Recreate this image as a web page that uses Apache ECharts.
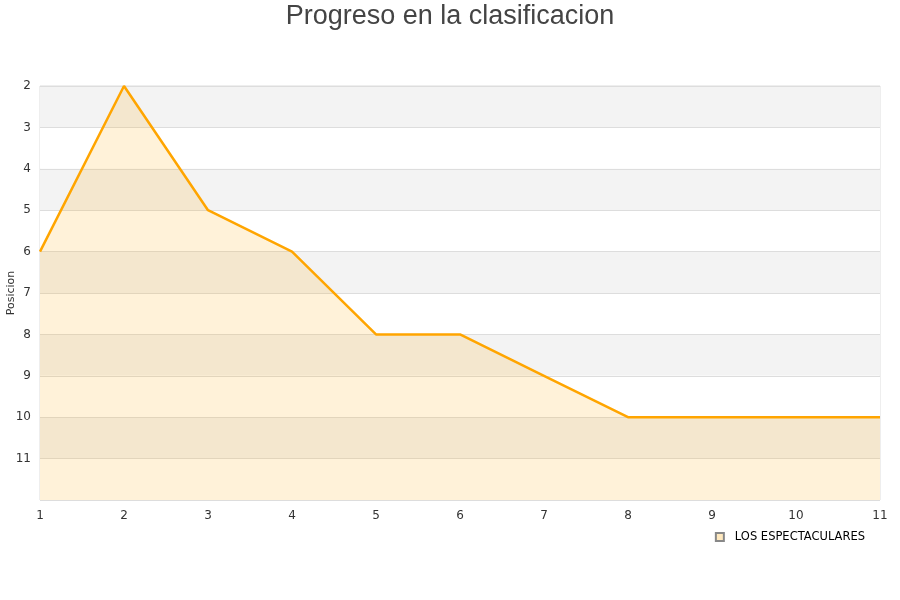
<!DOCTYPE html>
<html><head><meta charset="utf-8">
<script src="https://cdn.jsdelivr.net/npm/echarts@6/dist/echarts.min.js"></script>
<style>html,body{margin:0;padding:0;background:#fff}#c{width:900px;height:600px}</style>
</head><body><div id="c"></div>
<script>
const jornadas = [1,2,3,4,5,6,7,8,9,10,11];
const posiciones = [6,2,5,6,8,8,9,10,10,10,10];
const seriesName = 'LOS ESPECTACULARES';
const titleText = 'Progreso en la clasificacion';
const yName = 'Posicion';

const chart = echarts.init(document.getElementById('c'));
chart.setOption({
  animation: false,
  title: { text: titleText, left: 'center', top: -2, textStyle: { fontSize: 27, fontWeight: 'normal', color: '#444', fontFamily: 'Liberation Sans, Arial, sans-serif' } },
  grid: { left: 40, right: 20, top: 86, bottom: 100, show: true, borderColor: '#ddd', borderWidth: 1, containLabel: false, outerBoundsMode: 'none' },
  legend: { data: [seriesName], right: 30, bottom: 52, itemWidth: 8, itemHeight: 8, icon: 'rect', itemGap: 6,
    textStyle: { fontSize: 11.5, color: '#000', fontFamily: 'DejaVu Sans', padding: [0,0,0,6] } },
  xAxis: { type: 'value', min: 1, max: 11, interval: 1,
    axisLine: { show: false }, axisTick: { show: false }, splitLine: { show: false },
    axisLabel: { fontSize: 12, color: '#333', margin: 10, fontFamily: 'DejaVu Sans' } },
  yAxis: { type: 'value', inverse: true, min: 2, max: 12, interval: 1,
    name: yName, nameLocation: 'middle', nameGap: 23, nameMoveOverlap: false,
    nameTextStyle: { fontSize: 11, color: '#333', fontFamily: 'DejaVu Sans' },
    axisLine: { show: false }, axisTick: { show: false },
    splitLine: { show: true, lineStyle: { color: '#ddd' } },
    splitArea: { show: true, areaStyle: { color: ['#f3f3f3', '#ffffff'] } },
    axisLabel: { fontSize: 12, color: '#333', margin: 9, fontFamily: 'DejaVu Sans',
      formatter: v => v === 12 ? '' : String(v) } },
  series: [{ name: seriesName, type: 'line', data: jornadas.map((j,i)=>[j, posiciones[i]]),
    symbol: 'none', lineStyle: { color: '#FFA500', width: 2.5 },
    itemStyle: { color: '#FFE9BF', borderColor: '#888', borderWidth: 1 },
    areaStyle: { color: 'rgba(255,165,0,0.21)', origin: 'end' } }]
});
</script></body></html>
